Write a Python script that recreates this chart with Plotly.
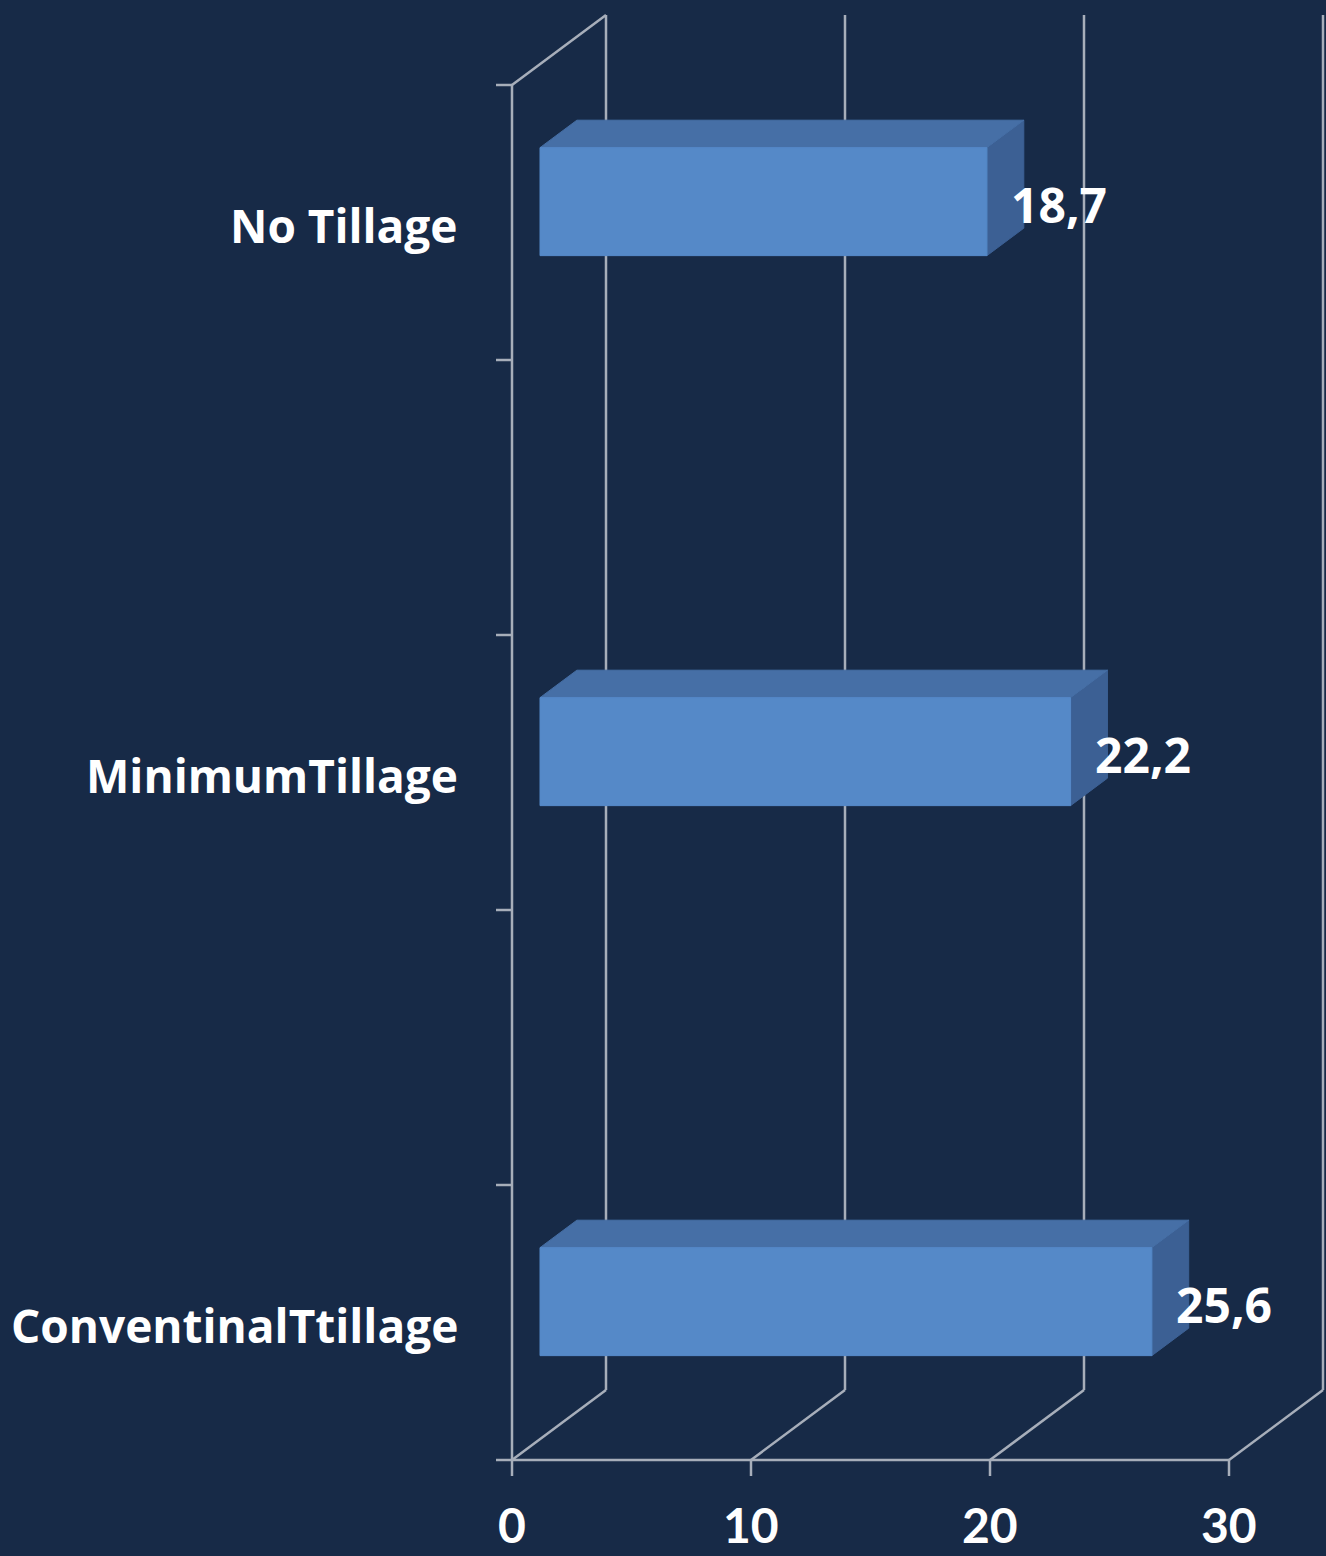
import plotly.graph_objects as go

# ---------------- data ----------------
# category slots from bottom to top (blank slots are empty categories)
slot_names = ["ConventinalTtillage", "", "MinimumTillage", "", "No Tillage"]
slot_values = [25.6, None, 22.2, None, 18.7]
x_ticks = [0, 10, 20, 30]

# ---------------- style / geometry ----------------
BG = "#172a47"
GRID = "#a7aeba"
FRONT = "#5589c8"
TOP = "#466fa6"
SIDE = "#3c6094"
FONT = "Open Sans"
W, H = 1326, 1556
X0_PX, X_SCALE = 512, 23.9       # px of value 0, px per unit
Y0_PX, Y_SCALE = 1460, 275.0     # px of slot 0, px per slot
DX, DY = 94 / X_SCALE, 70 / Y_SCALE   # depth offset in data units
F0, F1 = 0.298, 0.69             # bar depth fractions
BAR_H = 108 / Y_SCALE
XMAX = x_ticks[-1]
NSLOT = len(slot_names)

xr = [-X0_PX / X_SCALE, (W - X0_PX) / X_SCALE]
yr = [(Y0_PX - H) / Y_SCALE, Y0_PX / Y_SCALE]

fig = go.Figure()

# ---- walls / gridlines ----
gx, gy = [], []
for t in x_ticks:
    # back wall vertical
    gx += [t + DX, t + DX, None]
    gy += [DY, NSLOT + DY, None]
    # floor diagonal
    gx += [t, t + DX, None]
    gy += [0, DY, None]
# left wall
gx += [0, 0, None, 0, DX, None]
gy += [0, NSLOT, None, NSLOT, NSLOT + DY, None]
# front floor line (x axis)
gx += [0, XMAX, None]
gy += [0, 0, None]
# x ticks
tick_len_x = 16 / Y_SCALE
for t in x_ticks:
    gx += [t, t, None]
    gy += [0, -tick_len_x, None]
# y ticks
tick_len_y = 16 / X_SCALE
for s in range(NSLOT + 1):
    gx += [-tick_len_y, 0, None]
    gy += [s, s, None]
fig.add_trace(go.Scatter(x=gx, y=gy, mode="lines",
                         line=dict(color=GRID, width=2.5), hoverinfo="skip",
                         showlegend=False))

# ---- bars ----
def poly(xs, ys, color):
    fig.add_trace(go.Scatter(x=xs + [xs[0]], y=ys + [ys[0]], mode="lines",
                             fill="toself", fillcolor=color,
                             line=dict(color=color, width=1),
                             hoverinfo="skip", showlegend=False))

annotations = []
for i, (name, v) in enumerate(zip(slot_names, slot_values)):
    c = i + 0.5
    if name:
        annotations.append(dict(x=0, y=c, xref="x", yref="y", text=name,
                                showarrow=False, xanchor="right", yanchor="middle",
                                xshift=-52, yshift=-2,
                                font=dict(family=FONT, size=46, color="white",
                                          weight="bold")))
    if v is None:
        continue
    b, t = c - BAR_H / 2, c + BAR_H / 2
    # side face
    poly([v + F0 * DX, v + F1 * DX, v + F1 * DX, v + F0 * DX],
         [b + F0 * DY, b + F1 * DY, t + F1 * DY, t + F0 * DY], SIDE)
    # top face
    poly([0 + F0 * DX, v + F0 * DX, v + F1 * DX, 0 + F1 * DX],
         [t + F0 * DY, t + F0 * DY, t + F1 * DY, t + F1 * DY], TOP)
    # front face
    poly([0 + F0 * DX, v + F0 * DX, v + F0 * DX, 0 + F0 * DX],
         [b + F0 * DY, b + F0 * DY, t + F0 * DY, t + F0 * DY], FRONT)
    annotations.append(dict(x=v + F0 * DX, y=c + F0 * DY, xref="x", yref="y",
                            text=f"{v:.1f}".replace(".", ","), showarrow=False,
                            xanchor="left", yanchor="middle", xshift=22, yshift=-3,
                            font=dict(family=FONT, size=48, color="white",
                                      weight="bold")))

for t in x_ticks:
    annotations.append(dict(x=t, y=0, xref="x", yref="y", text=str(t),
                            showarrow=False, xanchor="center", yanchor="bottom",
                            yshift=Y0_PX - (H - 2), borderpad=0,
                            font=dict(family="Lato", size=48, color="white",
                                      weight="bold")))

fig.update_layout(
    width=W, height=H,
    margin=dict(l=0, r=0, t=0, b=0),
    paper_bgcolor=BG, plot_bgcolor=BG,
    xaxis=dict(range=xr, visible=False, fixedrange=True),
    yaxis=dict(range=yr, visible=False, fixedrange=True),
    annotations=annotations,
    hovermode=False,
    showlegend=False,
)

fig.write_html("out.html")
